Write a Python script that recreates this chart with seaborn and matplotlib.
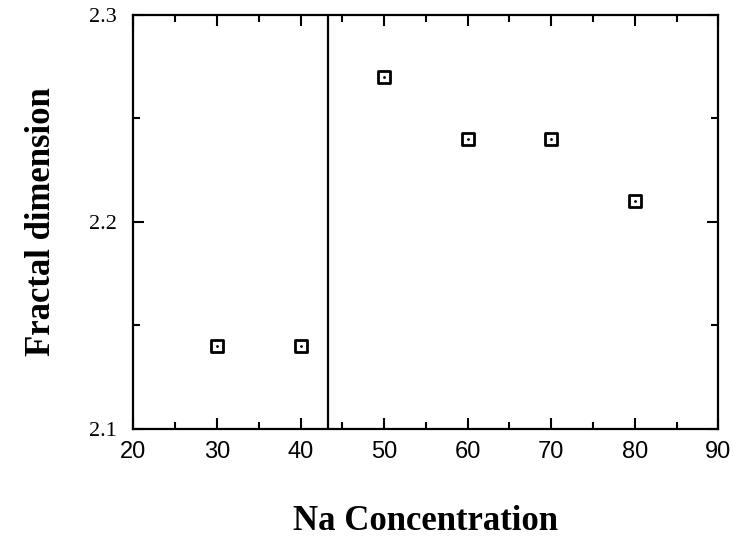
import matplotlib
matplotlib.use("Agg")
import matplotlib.pyplot as plt
import seaborn as sns
import pandas as pd
from matplotlib.ticker import MultipleLocator

# Measured fractal dimension against Na concentration
na_concentration = [30, 40, 50, 60, 70, 80]
fractal_dimension = [2.14, 2.14, 2.27, 2.24, 2.24, 2.21]
boundary_x = 43.3

df = pd.DataFrame({"Na Concentration": na_concentration,
                   "Fractal dimension": fractal_dimension})

sns.set_theme(style="ticks")
plt.rcParams["font.family"] = ["Liberation Serif", "DejaVu Serif"]
plt.rcParams["text.color"] = "black"
plt.rcParams["axes.labelcolor"] = "black"

fig = plt.figure(figsize=(7.33, 5.39), dpi=100)
ax = fig.add_axes([0.182, 0.205, 0.798, 0.767])

sns.scatterplot(data=df, x="Na Concentration", y="Fractal dimension", ax=ax,
                marker="s", s=70, facecolor="white", edgecolor="black",
                linewidth=2.0, zorder=3)
sns.scatterplot(data=df, x="Na Concentration", y="Fractal dimension", ax=ax,
                marker="o", s=4, color="black", linewidth=0, zorder=4)

ax.axvline(boundary_x, color="black", linewidth=1.6)

ax.set_xlim(20, 90)
ax.set_ylim(2.1, 2.3)
ax.xaxis.set_major_locator(MultipleLocator(10))
ax.xaxis.set_minor_locator(MultipleLocator(5))
ax.yaxis.set_major_locator(MultipleLocator(0.1))
ax.yaxis.set_minor_locator(MultipleLocator(0.05))
ax.tick_params(which="both", direction="in", top=True, right=True,
               color="black", width=1.5, labelcolor="black")
ax.tick_params(which="major", length=8)
ax.tick_params(which="minor", length=5)
ax.tick_params(axis="y", which="major", labelsize=16, pad=12)
ax.tick_params(axis="x", which="major", labelsize=17, pad=9)
for lab in ax.get_xticklabels():
    lab.set_family(["Liberation Sans", "DejaVu Sans"])
for sp in ax.spines.values():
    sp.set_linewidth(1.6)
    sp.set_color("black")

ax.set_xlabel("Na Concentration", fontsize=25, fontweight="bold",
              labelpad=30, color="black")
ax.set_ylabel("Fractal dimension", fontsize=25, fontweight="bold",
              labelpad=22, color="black")

fig.savefig("out.png", dpi=100)
